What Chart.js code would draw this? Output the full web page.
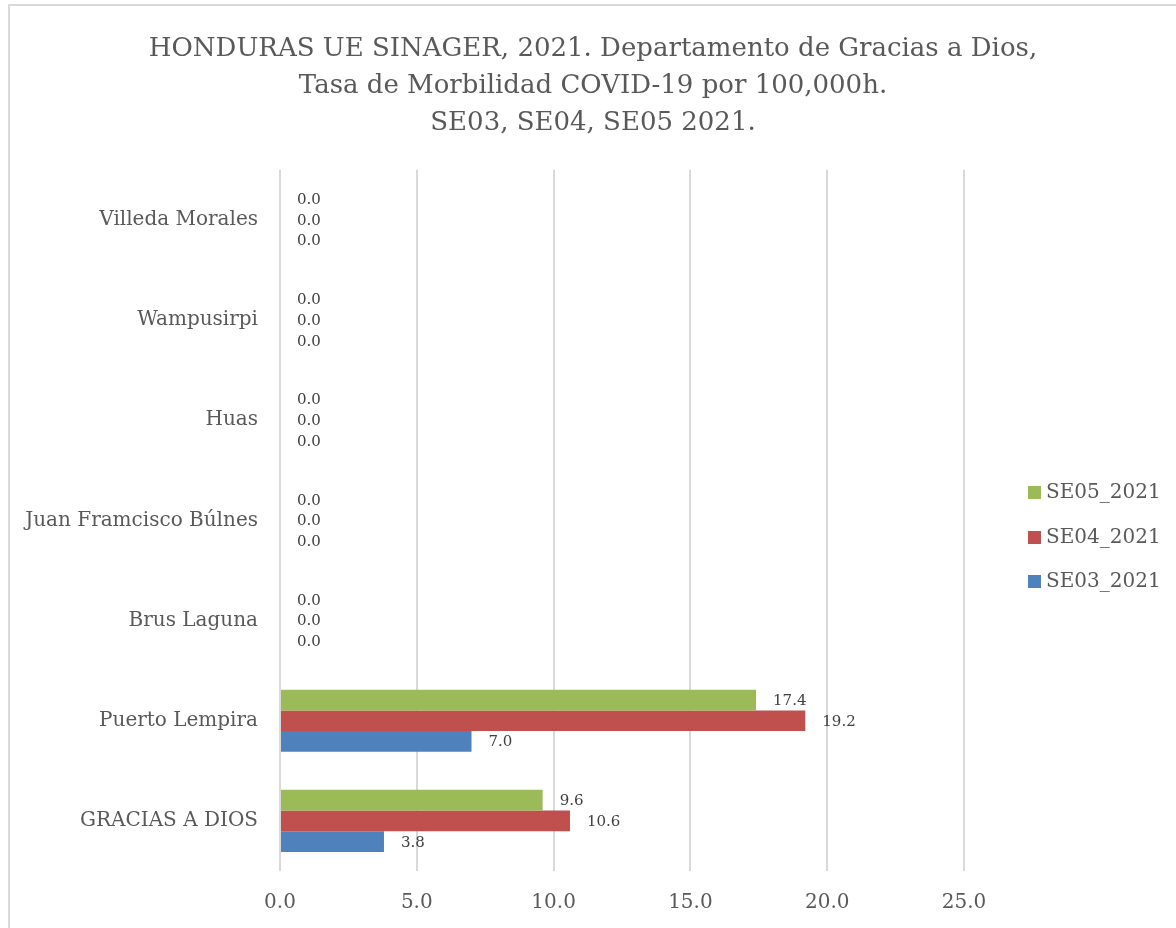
<!DOCTYPE html>
<html><head><meta charset="utf-8">
<script src="https://cdn.jsdelivr.net/npm/chart.js@4"></script>
<style>
html,body{margin:0;padding:0;background:#fff;overflow:hidden;}
#wrap{position:absolute;left:0;top:0;width:1176px;height:928px;}
#frame{position:absolute;left:8px;top:4px;width:1200px;height:1000px;border-left:2px solid #d9d9d9;border-top:2px solid #d9d9d9;pointer-events:none;}
</style>
</head><body>
<div id="wrap"><canvas id="c" width="1176" height="928"></canvas><div id="frame"></div></div>
<script>
const titleLines = ["HONDURAS UE SINAGER, 2021. Departamento de Gracias a Dios,", "Tasa de Morbilidad COVID-19 por 100,000h.", "SE03, SE04, SE05 2021."];
const categories = ["Villeda Morales", "Wampusirpi", "Huas", "Juan Framcisco Búlnes", "Brus Laguna", "Puerto Lempira", "GRACIAS A DIOS"];
const seriesNames = ["SE05_2021", "SE04_2021", "SE03_2021"];
const se05 = [0.0, 0.0, 0.0, 0.0, 0.0, 17.4, 9.6];
const se04 = [0.0, 0.0, 0.0, 0.0, 0.0, 19.2, 10.6];
const se03 = [0.0, 0.0, 0.0, 0.0, 0.0, 7.0, 3.8];
const xTicks = [0, 5, 10, 15, 20, 25];
const colors = ["#9BBB59", "#C0504D", "#4F81BD"];

const FONT = "'DejaVu Serif', 'Liberation Serif', serif";
const TEXT = "#595959";

const valueLabels = {
  id: 'valueLabels',
  afterDatasetsDraw(chart) {
    const ctx = chart.ctx;
    ctx.save();
    ctx.font = "15px " + FONT;
    ctx.fillStyle = "#404040";
    ctx.textAlign = "left";
    ctx.textBaseline = "middle";
    chart.data.datasets.forEach((ds, i) => {
      const meta = chart.getDatasetMeta(i);
      meta.data.forEach((bar, j) => {
        ctx.fillText(Number(ds.data[j]).toFixed(1), bar.x + 17, bar.y + 1);
      });
    });
    ctx.restore();
  }
};

const customLegend = {
  id: 'customLegend',
  afterDraw(chart) {
    const ctx = chart.ctx;
    ctx.save();
    ctx.font = "20px " + FONT;
    ctx.textAlign = "left";
    ctx.textBaseline = "middle";
    const ys = [492, 537, 581];
    chart.data.datasets.forEach((ds, i) => {
      ctx.fillStyle = ds.backgroundColor;
      ctx.fillRect(1028, ys[i] - 6, 13, 13);
      ctx.fillStyle = TEXT;
      ctx.fillText(ds.label, 1046, ys[i] + 1);
    });
    ctx.restore();
  }
};

new Chart(document.getElementById('c'), {
  type: 'bar',
  data: {
    labels: categories,
    datasets: [
      { label: seriesNames[0], data: se05, backgroundColor: colors[0] },
      { label: seriesNames[1], data: se04, backgroundColor: colors[1] },
      { label: seriesNames[2], data: se03, backgroundColor: colors[2] }
    ]
  },
  options: {
    indexAxis: 'y',
    responsive: false,
    animation: false,
    devicePixelRatio: 1,
    categoryPercentage: 0.62,
    barPercentage: 1.0,
    layout: { padding: { top: 0, left: 10, right: 0, bottom: 0 } },
    plugins: {
      legend: { display: false },
      tooltip: { enabled: false },
      title: {
        display: true,
        text: titleLines,
        color: TEXT,
        font: { family: FONT, size: 26, weight: 'normal', lineHeight: 1.42 },
        padding: { top: 31, bottom: 28 }
      }
    },
    scales: {
      x: {
        min: 0, max: 25,
        afterBuildTicks(scale) { scale.ticks = xTicks.map(v => ({ value: v })); },
        afterFit(scale) { scale.height = 57; },
        grid: { color: "#d9d9d9", lineWidth: 2, drawTicks: false },
        border: { display: false },
        ticks: {
          color: TEXT,
          font: { family: FONT, size: 20 },
          padding: 20,
          callback: (v) => Number(v).toFixed(1)
        }
      },
      y: {
        afterFit(scale) { scale.width = 270; },
        grid: { display: false, drawTicks: false },
        border: { display: false },
        ticks: {
          color: TEXT,
          font: { family: FONT, size: 20 },
          padding: 22
        }
      },
      yRightSpace: {
        type: 'category',
        position: 'right',
        display: true,
        afterFit(scale) { scale.width = 212; },
        grid: { display: false, drawTicks: false },
        border: { display: false },
        ticks: { display: false }
      }
    }
  },
  plugins: [valueLabels, customLegend]
});
</script>
</body></html>
